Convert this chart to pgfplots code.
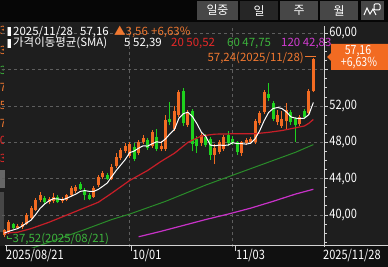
\documentclass[border=0pt]{standalone}
\usepackage{pgfplots}
\pgfplotsset{compat=1.18}
\usepackage{pgfplotstable}
\usepackage{fontspec}
\setmainfont{Noto Sans CJK KR}
\newfontfamily\narrowf[FakeStretch=0.85]{Noto Sans CJK KR}
\definecolor{bg}{HTML}{1E1E1E}
\definecolor{topbg}{HTML}{060606}
\definecolor{botbg}{HTML}{101010}
\definecolor{upc}{HTML}{F26B22}
\definecolor{dnc}{HTML}{1ED21E}
\definecolor{gridc}{HTML}{5E5E5E}
\definecolor{axc}{HTML}{D2D2D2}
\definecolor{maB}{HTML}{C81E28}
\definecolor{maC}{HTML}{2A8C2A}
\definecolor{maD}{HTML}{C832C8}
\definecolor{txtred}{HTML}{E62828}
\definecolor{txtgreen}{HTML}{3CB43C}
\definecolor{txtmag}{HTML}{D23CD2}
\definecolor{txtorange}{HTML}{F07830}
\definecolor{btn}{HTML}{474747}
\definecolor{btnsel}{HTML}{262626}

\pgfplotstableread{
i O H L C
0 37.8 38.5 37.52 38.3
1 38.1 39.4 37.9 39.2
3 38.6 39.0 38.4 38.8
4 38.7 39.2 38.5 39.0
5 39.0 40.2 38.9 40.0
6 39.7 41.0 39.5 40.8
7 40.6 41.9 40.4 41.6
8 41.6 42.5 41.4 42.2
10 41.4 42.0 41.2 41.8
11 41.5 42.4 41.3 42.0
13 41.5 42.0 41.3 41.8
14 41.7 42.3 41.5 42.2
15 42.2 43.2 42.0 43.0
16 42.6 43.3 42.4 43.1
20 42.0 43.2 41.9 43.0
21 43.3 44.4 43.1 44.2
22 44.2 44.8 44.0 44.6
24 44.0 45.6 43.8 45.3
25 45.4 46.8 45.2 46.4
26 46.3 47.4 46.0 47.2
27 47.0 47.9 46.8 47.6
28 46.5 48.0 46.3 47.8
30 46.8 48.3 46.6 48.0
31 48.0 48.8 47.8 48.5
33 47.6 49.4 47.4 49.1
35 47.3 48.2 47.0 47.6
36 47.3 51.0 47.1 50.5
38 49.5 52.0 49.3 51.5
39 51.0 53.8 50.8 53.5
41 49.9 51.6 49.7 51.3
44 47.9 49.0 47.6 48.8
47 46.6 47.8 45.6 47.4
48 46.9 48.3 46.7 48.0
49 47.3 48.8 47.1 48.6
53 46.8 48.2 46.5 48.0
54 47.9 48.5 47.7 48.3
55 48.0 48.6 47.8 48.4
56 48.0 50.6 47.8 50.4
57 50.1 51.5 49.9 51.2
58 51.3 53.8 51.1 53.5
61 50.2 51.6 49.9 51.0
62 49.8 51.4 49.6 50.6
63 50.3 52.3 49.5 51.6
66 50.0 51.0 49.8 50.8
68 51.2 53.9 51.0 53.6
69 53.6 57.24 53.5 57.16
}\tabup

\pgfplotstableread{
i O H L C
2 39.0 39.1 38.4 38.6
9 41.9 42.1 41.2 41.4
12 42.0 42.2 41.3 41.4
17 43.4 43.6 42.8 42.9
18 42.8 43.0 41.6 42.2
19 42.2 42.4 41.6 41.8
23 44.4 44.6 43.9 44.0
29 47.5 47.9 45.9 46.2
32 48.3 48.5 47.2 47.4
34 48.6 49.5 47.0 47.3
37 50.6 52.4 49.9 50.2
40 53.7 54.0 49.8 50.1
42 51.5 51.7 47.0 47.8
43 48.4 48.7 46.8 47.6
45 48.6 48.9 47.5 47.7
46 48.4 48.6 46.1 46.6
50 48.8 49.2 47.6 47.9
51 48.4 48.7 47.7 47.9
52 48.0 48.2 46.6 46.9
59 53.3 54.5 52.6 52.9
60 52.3 52.5 50.3 50.6
64 51.3 51.6 49.9 50.2
65 50.6 50.8 48.0 49.9
67 51.4 51.7 50.6 50.8
}\tabdn

\pgfplotstableread{
i v
0 38.0
1 38.2
2 38.35
3 38.5
4 38.78
5 39.12
6 39.44
7 40.04
8 40.72
9 41.20
10 41.56
11 41.80
12 41.76
13 41.68
14 41.84
15 42.08
16 42.30
17 42.60
18 42.68
19 42.60
20 42.60
21 42.82
22 43.16
23 43.52
24 44.22
25 44.90
26 45.50
27 46.10
28 46.86
29 47.04
30 47.36
31 47.62
32 47.58
33 47.84
34 48.06
35 47.98
36 48.38
37 48.94
38 49.42
39 50.66
40 51.16
41 51.32
42 50.84
43 50.06
44 49.12
45 48.64
46 47.70
47 47.62
48 47.70
49 47.66
50 47.70
51 47.96
52 47.86
53 47.86
54 47.80
55 47.90
56 48.40
57 49.26
58 50.36
59 51.28
60 51.72
61 51.84
62 51.72
63 51.34
64 50.80
65 50.66
66 50.62
67 50.66
68 51.06
69 52.39
}\tabmaA

\pgfplotstableread{
i v
0 38.0
3 38.1
6 38.5
10 39.2
13 39.8
17 40.6
21 41.4
24 42.4
28 43.8
32 44.9
35 45.9
38 46.8
41 48.0
44 48.7
47 48.9
52 48.95
56 48.95
59 49.1
62 49.3
66 49.7
67 49.8
68 50.1
69 50.52
}\tabmaB

\pgfplotstableread{
i v
6 36.3
10 37.0
14 37.7
18 38.4
24 39.5
28 40.1
32 40.8
36 41.5
40 42.3
45 43.3
50 44.2
55 45.1
60 46.0
65 46.9
69 47.75
}\tabmaC

\pgfplotstableread{
i v
30 37.6
35 38.2
40 38.85
45 39.5
50 40.1
55 40.75
60 41.5
65 42.3
69 42.83
}\tabmaD

\begin{document}
\begin{tikzpicture}[x=1bp,y=1bp]
\path[use as bounding box] (0,0) rectangle (388,267);
\fill[bg] (0,0) rectangle (388,245);
\fill[topbg] (0,245) rectangle (388,267);
\fill[botbg] (0,0) rectangle (388,21);
% left strip
\fill[black!60] (0,79) rectangle (5,97);
\fill[black!72] (0,35) rectangle (4,75);
\begin{scope}
\clip (0,0) rectangle (4,245);
\begin{scope}[every node/.style={anchor=east, inner sep=0pt, font=\fontsize{11.5}{12}\selectfont}]
\node[text=txtorange] at (6.5,237) {3};
\node[text=txtorange] at (6.5,217) {3};
\node[text=txtgreen] at (6.5,197) {3};
\node[text=txtorange] at (6.5,180) {7};
\node[text=txtorange] at (6.5,162) {5};
\node[text=txtorange] at (6.5,144) {7};
\node[text=txtred] at (6.5,127) {0};
\node[text=txtred] at (6.5,109) {3};
\end{scope}
\end{scope}
\begin{axis}[
  at={(5,22)}, anchor=south west, scale only axis,
  width=322bp, height=221bp,
  xmin=-0.446, xmax=71.43, ymin=36.47, ymax=60.81,
  hide x axis,
  axis y line*=right,
  y axis line style={-, draw=axc, line width=1bp},
  ytick={40,44,48,52,56,60},
  yticklabels={{40,00},{44,00},{48,00},{52,00},{},{60,00}},
  minor ytick={37,38,39,41,42,43,45,46,47,49,50,51,53,54,55,57,58,59},
  tick align=outside,
  major tick length=4bp, minor tick length=2.5bp,
  major tick style={draw=axc, line width=0.8bp},
  minor tick style={draw=axc, line width=0.8bp},
  ymajorgrids,
  major grid style={draw=gridc, line width=0.8bp, dash pattern=on 3bp off 3bp},
  yticklabel style={font=\narrowf\fontsize{13}{13}\selectfont, text=white, inner sep=0pt, anchor=west, xshift=1bp},
]
\draw[gridc, line width=0.8bp, dash pattern=on 3bp off 3bp] (axis cs:28,36.47) -- (axis cs:28,60.81);
\draw[gridc, line width=0.8bp, dash pattern=on 3bp off 3bp] (axis cs:51,36.47) -- (axis cs:51,60.81);
% wicks
\addplot[draw=none, mark=none, error bars/.cd, y dir=plus, y explicit, error mark=none,
  error bar style={draw=upc, line width=1bp}]
  table[x=i, y=L, y error plus expr=\thisrow{H}-\thisrow{L}] {\tabup};
\addplot[draw=none, mark=none, error bars/.cd, y dir=plus, y explicit, error mark=none,
  error bar style={draw=dnc, line width=1bp}]
  table[x=i, y=L, y error plus expr=\thisrow{H}-\thisrow{L}] {\tabdn};
% bodies
\addplot[draw=none, mark=none, error bars/.cd, y dir=plus, y explicit, error mark=none,
  error bar style={draw=upc, line width=3bp}]
  table[x=i, y=O, y error plus expr=\thisrow{C}-\thisrow{O}] {\tabup};
\addplot[draw=none, mark=none, error bars/.cd, y dir=plus, y explicit, error mark=none,
  error bar style={draw=dnc, line width=3bp}]
  table[x=i, y=C, y error plus expr=\thisrow{O}-\thisrow{C}] {\tabdn};
% moving averages
\addplot[maD, line width=1.2bp, mark=none] table[x=i, y=v] {\tabmaD};
\addplot[maC, line width=1bp, mark=none] table[x=i, y=v] {\tabmaC};
\addplot[maB, line width=1.2bp, mark=none] table[x=i, y=v] {\tabmaB};
\addplot[white, line width=1bp, mark=none] table[x=i, y=v] {\tabmaA};
\end{axis}
% bottom axis
\draw[axc, line width=1bp] (5,21) -- (388,21);
\draw[axc, line width=1bp] (6,21) -- (6,16);
\draw[axc, line width=1bp] (131.7,21) -- (131.7,16);
\draw[axc, line width=1bp] (235.5,21) -- (235.5,16);
\begin{scope}[every node/.style={anchor=west, inner sep=0pt, text=white, font=\narrowf\fontsize{13}{13}\selectfont}]
\node at (6,11.5) {2025/08/21};
\node at (132.5,11.5) {10/01};
\node at (236,11.5) {11/03};
\node at (323,11.5) {2025/11/28};
\end{scope}
% top buttons
\fill[btn] (197,247) rectangle (238,266);
\fill[btnsel] (240,247) rectangle (278,266);
\fill[btn] (280,247) rectangle (318,266);
\fill[btn] (320,247) rectangle (358,266);
\fill[btn] (361,247) rectangle (384,266);
\begin{scope}[every node/.style={inner sep=0pt, text=white, font=\fontsize{12}{12}\selectfont}]
\node at (217.5,256.5) {일중};
\node at (259,256.5) {일};
\node at (299,256.5) {주};
\node at (339,256.5) {월};
\end{scope}
\draw[white, line width=1bp] (364,252) -- (367,259) -- (370,253) -- (373,258) -- (376,252);
\draw[white, line width=1bp, rounded corners=1bp] (374,257) rectangle (380,263);
% legend
\fill[white] (8,231) rectangle (11,240);
\fill[black!50] (7,231) rectangle (8,240);
\fill[white] (8,219) rectangle (11,228);
\fill[black!50] (7,219) rectangle (8,228);
\begin{scope}[every node/.style={anchor=base west, inner sep=0pt, text=white, font=\fontsize{11.5}{12}\selectfont}]
\node at (13,232) {2025/11/28};
\node at (80,232) {57,16};
\node[text=txtorange] at (114,232) {▲3,56};
\node[text=txtorange] at (151,232) {+6,63\%};
\node at (13,220.5) {가격이동평균(SMA)};
\node at (124,220.5) {5};
\node at (133,220.5) {52,39};
\node[text=txtred] at (171,220.5) {20 50,52};
\node[text=txtgreen] at (227,220.5) {60 47,75};
\node[text=txtmag] at (281,220.5) {120 42,83};
\end{scope}
% max / min annotations
\node[anchor=east, inner sep=0pt, text=txtorange, font=\fontsize{11.5}{12}\selectfont] at (304,209.5) {57,24(2025/11/28)};
\draw[txtorange, line width=1bp] (305,210.6) -- (316,210.6);
\draw[txtgreen, line width=1bp] (7.5,31) -- (7.5,28.5) -- (12,28.5);
\node[anchor=west, inner sep=0pt, text=txtgreen, font=\fontsize{11.5}{12}\selectfont] at (12.5,28.5) {37,52(2025/08/21)};
% price tag
\fill[upc] (327,210) -- (331,214) -- (331,223) -- (388,223) -- (388,197) -- (331,197) -- (331,206) -- cycle;
\begin{scope}[every node/.style={inner sep=0pt, text=white, font=\narrowf\fontsize{12.5}{12.5}\selectfont}]
\node at (358,216) {57,16};
\node at (359,203.5) {+6,63\%};
\end{scope}
\end{tikzpicture}
\end{document}
